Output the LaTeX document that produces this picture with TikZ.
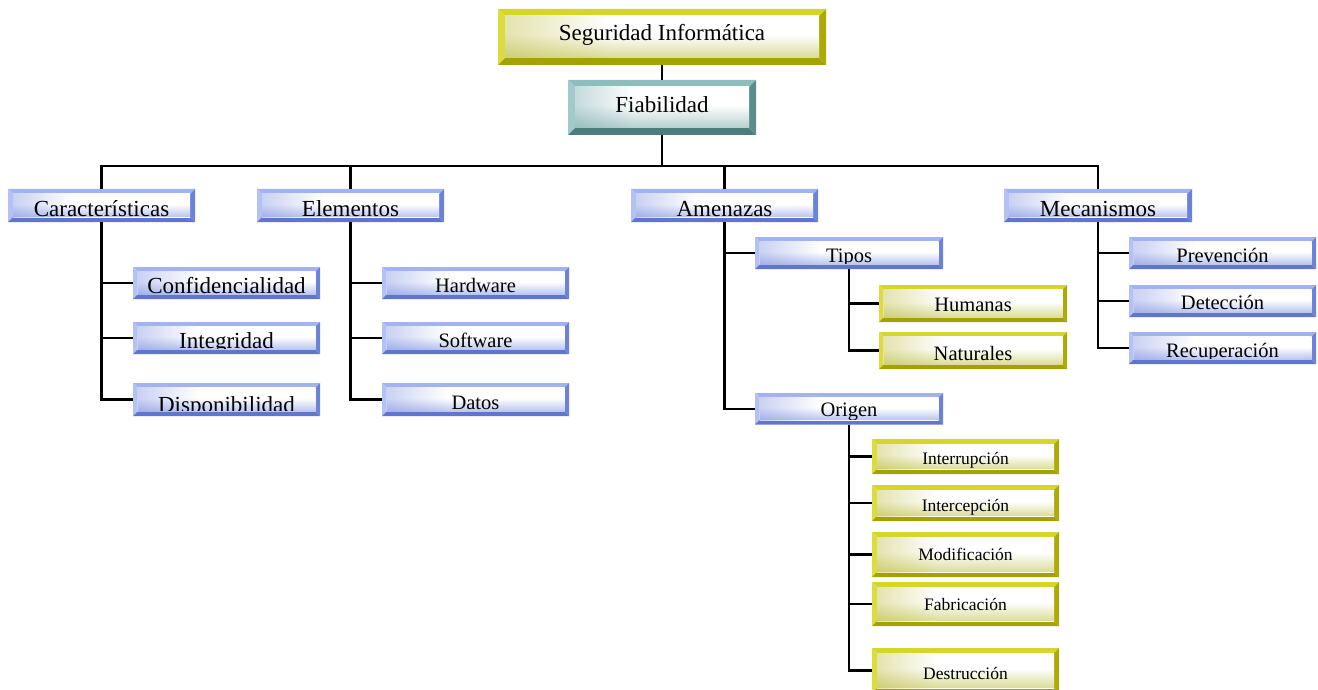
\documentclass[tikz,border=0pt]{standalone}
\usepackage{fontspec}
\setmainfont{Liberation Serif}
\usetikzlibrary{fadings,calc}
% bevel palettes: top, left, bottom, right edges and face tint
\definecolor{yT}{HTML}{D6D62A}\definecolor{yL}{HTML}{DCDC3C}
\definecolor{yB}{HTML}{A3A300}\definecolor{yR}{HTML}{ABAB08}
\definecolor{yF}{HTML}{BEBE44}
\definecolor{bT}{HTML}{A3B3F0}\definecolor{bL}{HTML}{B3C1F4}
\definecolor{bB}{HTML}{5F75CF}\definecolor{bR}{HTML}{6C82D6}
\definecolor{bF}{HTML}{8194E2}
\definecolor{tT}{HTML}{8EBDBD}\definecolor{tL}{HTML}{A3CACA}
\definecolor{tB}{HTML}{4C7C7C}\definecolor{tR}{HTML}{5C8C8C}
\definecolor{tF}{HTML}{76A8A8}
\colorlet{bvF}{bF}
% face tint: strong on the left, white from about 40% on
\pgfdeclarehorizontalshading[bvF]{bvface}{100bp}{color(0bp)=(bvF); color(12bp)=(bvF!75!white);
  color(42bp)=(white); color(100bp)=(white)}
% \bevbox{name}{options}{x1}{y1}{x2}{y2}{baseline above bottom}{text}
\newcommand\bevbox[8]{%
  \node[bx,#2,bvbase=#7,bvtext={#8},
        minimum width={(#5-#3)*1pt},minimum height={(#6-#4)*1pt}]
        (#1) at ({(#3+#5)/2},{(#4+#6)/2}) {};}
\begin{document}
\begin{tikzpicture}[x=1pt,y=-1pt,
  link/.style={line width=2.1pt,black},
  bvw/.store in=\bvw, bvw=4.5,
  bvfs/.store in=\bvfs, bvfs=20.5,
  bvbase/.store in=\bvbase, bvbase=6,
  bvtext/.store in=\bvtext, bvtext={},
  palette/.code={\colorlet{bvT}{#1T}\colorlet{bvL}{#1L}\colorlet{bvB}{#1B}\colorlet{bvR}{#1R}%
    \colorlet{bvF}{#1F}},
  yellowbox/.style={palette=y},
  bluebox/.style={palette=b},
  tealbox/.style={palette=t},
  bx/.style={inner sep=0pt,outer sep=0pt,
    path picture={
      \path (path picture bounding box.south west) coordinate (bvsw)
            (path picture bounding box.north east) coordinate (bvne)
            (path picture bounding box.north west) coordinate (bvnw)
            (path picture bounding box.south east) coordinate (bvse);
      \path ([shift={(\bvw pt,\bvw pt)}]bvsw) coordinate (bvisw)
            ([shift={(-\bvw pt,-\bvw pt)}]bvne) coordinate (bvine)
            ([shift={(\bvw pt,-\bvw pt)}]bvnw) coordinate (bvinw)
            ([shift={(-\bvw pt,\bvw pt)}]bvse) coordinate (bvise);
      \fill[bvT] (bvnw) -- (bvne) -- (bvine) -- (bvinw) -- cycle;
      \fill[bvL] (bvnw) -- (bvinw) -- (bvisw) -- (bvsw) -- cycle;
      \fill[bvB] (bvsw) -- (bvisw) -- (bvise) -- (bvse) -- cycle;
      \fill[bvR] (bvse) -- (bvise) -- (bvine) -- (bvne) -- cycle;
      \shade[shading=bvface] (bvisw) rectangle (bvine);
      \fill[bvF,fill opacity=0.55,path fading=north]
            (bvisw) rectangle ($(bvisw)!0.55!(bvinw)+(bvise)-(bvisw)$);
      \clip ([yshift=0.8pt]bvisw) rectangle (bvine);
      \node[anchor=base,inner sep=0pt,font=\fontsize{\bvfs pt}{\bvfs pt}\selectfont]
            at ([yshift=\bvbase pt]path picture bounding box.south) {\bvtext};
    }},
  top/.style={bvw=7,bvfs=23},
  lvl/.style={bluebox,bvw=5,bvfs=23},
  sub/.style={bluebox,bvw=4.5,bvfs=20.5},
  leaf/.style={yellowbox,bvw=4.5,bvfs=20.5},
  small/.style={yellowbox,bvw=5,bvfs=17.5}
]
\useasboundingbox (0,0) rectangle (1318,690);

% root and second level
\bevbox{seg}{top,yellowbox}{498}{9}{826}{65}{24}{Seguridad Informática}
\bevbox{fia}{top,tealbox}{568}{80}{756}{135}{22.5}{Fiabilidad}

\bevbox{car}{lvl}{8}{189}{195}{222}{5.3}{Características}
\bevbox{ele}{lvl}{257}{189}{444}{222}{5.3}{Elementos}
\bevbox{ame}{lvl}{631}{189}{818}{222}{5.3}{Amenazas}
\bevbox{mec}{lvl}{1004}{189}{1192}{222}{5.3}{Mecanismos}

% Características
\bevbox{conf}{lvl,bvw=4.5}{133}{267}{320}{299}{5.7}{Confidencialidad}
\bevbox{integ}{lvl,bvw=4.5}{133}{322}{320}{354}{5.7}{Integridad}
\bevbox{disp}{lvl,bvw=4.5}{133}{383}{320}{416}{4}{Disponibilidad}

% Elementos
\bevbox{hard}{sub}{382}{267}{569}{299}{6.7}{Hardware}
\bevbox{soft}{sub}{382}{322}{569}{354}{6.7}{Software}
\bevbox{dat}{sub}{382}{383}{569}{416}{7}{Datos}

% Amenazas
\bevbox{tip}{sub}{755}{237}{943}{269}{6.3}{Tipos}
\bevbox{hum}{leaf}{879}{285}{1067}{322}{10.3}{Humanas}
\bevbox{nat}{leaf}{879}{332}{1067}{369}{9}{Naturales}
\bevbox{ori}{sub}{755}{393}{943}{424.5}{7.6}{Origen}
\bevbox{intr}{small}{872}{439}{1059}{474}{9.3}{Interrupción}
\bevbox{intc}{small}{872}{485}{1059}{521}{9.3}{Intercepción}
\bevbox{mod}{small}{872}{532}{1059}{577}{16.3}{Modificación}
\bevbox{fab}{small}{872}{582}{1059}{626}{15.7}{Fabricación}
\bevbox{des}{small}{872}{648}{1059}{693}{13.7}{Destrucción}

% Mecanismos
\bevbox{pre}{sub}{1129}{237}{1316}{269}{6.3}{Prevención}
\bevbox{det}{sub}{1129}{285}{1316}{317}{7.4}{Detección}
\bevbox{rec}{sub}{1129}{332}{1316}{364}{6.3}{Recuperación}

% connectors
\coordinate (bus) at (662,166);
\draw[link] (seg.south -| fia.north) -- (fia.north);
\draw[link] (fia.south) -- (bus);
\draw[link] (car.north) |- (bus) -| (mec.north);
\draw[link] (ele.north) -- (ele.north |- bus);
\draw[link] (ame.north) -- (ame.north |- bus);

\draw[link] (car.south) |- (conf.west);
\draw[link] (car.south) |- (integ.west);
\draw[link] (car.south) |- (disp.west);

\draw[link] (ele.south) |- (hard.west);
\draw[link] (ele.south) |- (soft.west);
\draw[link] (ele.south) |- (dat.west);

\draw[link] (ame.south) |- (tip.west);
\draw[link] (ame.south) |- (ori.west);
\draw[link] (tip.south) |- (hum.west);
\draw[link] (tip.south) |- (nat.west);
\draw[link] (ori.south) |- (intr.west);
\draw[link] (ori.south) |- (intc.west);
\draw[link] (ori.south) |- (mod.west);
\draw[link] (ori.south) |- (fab.west);
\draw[link] (ori.south) |- (des.west);

\draw[link] (mec.south) |- (pre.west);
\draw[link] (mec.south) |- (det.west);
\draw[link] (mec.south) |- (rec.west);
\end{tikzpicture}
\end{document}
